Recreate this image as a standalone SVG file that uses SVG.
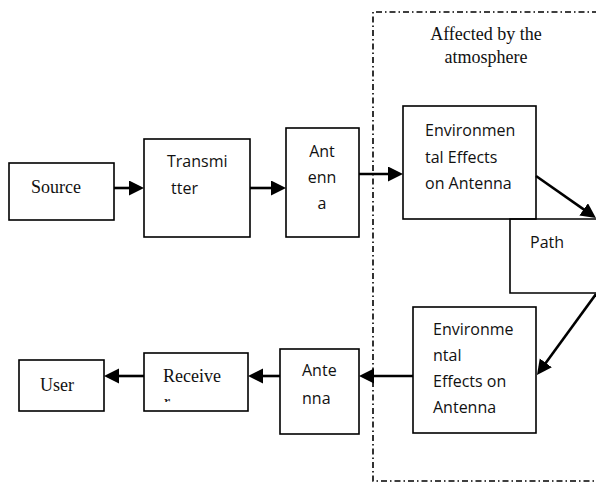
<svg xmlns="http://www.w3.org/2000/svg" width="596" height="483" viewBox="0 0 596 483">
<style>
.box{fill:#fff;stroke:#000;stroke-width:1.6}
.serif{font-family:"Liberation Serif","Times New Roman",serif;font-size:18px;fill:#111}
.sans{font-family:"Open Sans","Liberation Sans",sans-serif;font-size:16px;fill:#111}
.conn line{stroke:#000;stroke-width:2.6;marker-end:url(#ah)}
.dash{fill:none;stroke:#000;stroke-width:1.6;stroke-dasharray:6 3 1.5 3}
</style>
<defs>
<marker id="ah" markerUnits="userSpaceOnUse" markerWidth="16" markerHeight="16" refX="7" refY="7.5" orient="auto">
<path d="M0,0 L15,7.5 L0,15 z" fill="#000"/>
</marker>
<clipPath id="rclip"><rect x="150" y="380" width="60" height="22"/></clipPath>
</defs>
<rect width="596" height="483" fill="#fff"/>
<g id="region">
<path class="dash" d="M598,12 H373 V481 H598"/>
<text class="serif" x="486" y="40" text-anchor="middle">Affected by the</text>
<text class="serif" x="486" y="63" text-anchor="middle">atmosphere</text>
</g>
<g id="source">
<rect class="box" x="9" y="163" width="105" height="57"/>
<text class="serif" x="31" y="193">Source</text>
</g>
<g id="transmitter">
<rect class="box" x="144" y="139" width="106" height="98"/>
<text class="sans" x="167" y="167">Transmi</text>
<text class="sans" x="171" y="194">tter</text>
</g>
<g id="antenna1">
<rect class="box" x="286" y="128" width="73" height="109"/>
<text class="sans" x="322" y="157" text-anchor="middle">Ant</text>
<text class="sans" x="322" y="183" text-anchor="middle">enn</text>
<text class="sans" x="322" y="209" text-anchor="middle">a</text>
</g>
<g id="env1">
<rect class="box" x="403" y="106" width="133" height="113"/>
<text class="sans" x="425" y="136">Environmen</text>
<text class="sans" x="425" y="163">tal Effects</text>
<text class="sans" x="425" y="189">on Antenna</text>
</g>
<g id="path">
<path d="M598,219 H510 V293 H598" fill="none" stroke="#000" stroke-width="1.6"/>
<text class="sans" x="530" y="248">Path</text>
</g>
<g id="env2">
<rect class="box" x="413" y="307" width="123" height="126"/>
<text class="sans" x="433" y="335">Environme</text>
<text class="sans" x="433" y="361">ntal</text>
<text class="sans" x="433" y="387">Effects on</text>
<text class="sans" x="433" y="413">Antenna</text>
</g>
<g id="antenna2">
<rect class="box" x="280" y="349" width="79" height="85"/>
<text class="sans" x="302" y="376">Ante</text>
<text class="sans" x="302" y="404">nna</text>
</g>
<g id="receiver">
<rect class="box" x="144" y="353" width="104" height="58"/>
<text class="serif" x="163" y="382">Receive</text>
<text class="serif" x="164" y="408" clip-path="url(#rclip)">r</text>
</g>
<g id="user">
<rect class="box" x="19" y="360" width="85" height="51"/>
<text class="serif" x="40" y="391">User</text>
</g>
<g id="connectors" class="conn">
<line x1="114" y1="188" x2="136" y2="188"/>
<line x1="250" y1="188" x2="278" y2="188"/>
<line x1="359" y1="174" x2="395" y2="174"/>
<line x1="536" y1="176" x2="589.4" y2="213.4"/>
<line x1="596" y1="294" x2="541.7" y2="368.5"/>
<line x1="413" y1="376" x2="367" y2="376"/>
<line x1="280" y1="376" x2="256" y2="376"/>
<line x1="144" y1="376" x2="112" y2="376"/>
</g>
</svg>
